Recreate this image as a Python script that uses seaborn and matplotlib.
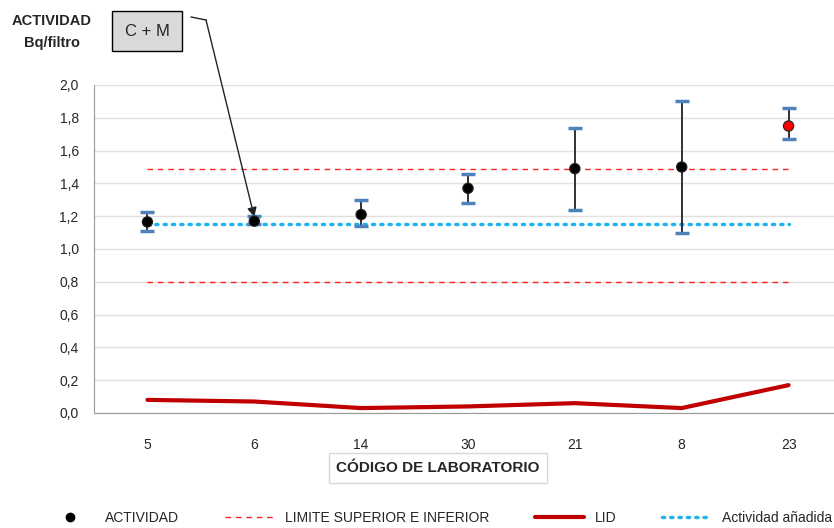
import matplotlib.pyplot as plt
import seaborn as sns
import pandas as pd
from matplotlib.lines import Line2D

# datos
labs = ['5', '6', '14', '30', '21', '8', '23']
actividad = [1.165, 1.17, 1.21, 1.37, 1.49, 1.50, 1.75]
err_sup = [1.225, 1.20, 1.30, 1.46, 1.74, 1.90, 1.86]
err_inf = [1.11, 1.15, 1.14, 1.28, 1.24, 1.10, 1.67]
lid = [0.08, 0.07, 0.03, 0.04, 0.06, 0.03, 0.17]
lim_sup = 1.49
lim_inf = 0.80
act_anadida = 1.15
yticks = [0.0, 0.2, 0.4, 0.6, 0.8, 1.0, 1.2, 1.4, 1.6, 1.8, 2.0]

sns.set_style('white')
plt.rcParams['font.family'] = ['Liberation Sans Narrow', 'Liberation Sans', 'DejaVu Sans']

df = pd.DataFrame({'lab': labs, 'x': range(len(labs)), 'act': actividad,
                   'sup': err_sup, 'inf': err_inf, 'lid': lid})
colores = ['black'] * (len(labs) - 1) + ['#ff0000']

fig = plt.figure(figsize=(8.34, 5.28), dpi=100)
ax = fig.add_axes([94 / 834, 115 / 528, 748 / 834, 328 / 528])

ax.set_ylim(0, 2.0)
ax.set_yticks(yticks)
ax.set_yticklabels([f'{v:.1f}'.replace('.', ',') for v in yticks], fontsize=10)
ax.yaxis.grid(True, color='#e0e0e0', lw=1)
ax.set_axisbelow(True)
for s in ['top', 'right']:
    ax.spines[s].set_visible(False)
for s in ['left', 'bottom']:
    ax.spines[s].set_color('#9a9a9a')
ax.tick_params(axis='y', length=5, color='#9a9a9a', pad=6)

xs = df['x']
ax.plot([xs.iloc[0], xs.iloc[-1]], [act_anadida] * 2, color='#1fb4f0', lw=2.5,
        ls=(0, (0.6, 1.8)), dash_capstyle='round', zorder=2)
ax.plot([xs.iloc[0], xs.iloc[-1]], [lim_sup] * 2, color='#ff2020', lw=1, ls=(0, (4, 3.5)), zorder=2)
ax.plot([xs.iloc[0], xs.iloc[-1]], [lim_inf] * 2, color='#ff2020', lw=1, ls=(0, (4, 3.5)), zorder=2)

sns.lineplot(data=df, x='x', y='lid', ax=ax, color='#c00000', lw=3, zorder=3)

yerr = [df['act'] - df['inf'], df['sup'] - df['act']]
cont = ax.errorbar(df['x'], df['act'], yerr=yerr, fmt='none', ecolor='#222222',
                   elinewidth=1.3, capsize=5, capthick=2.5, zorder=4)
for c in cont[1]:
    c.set_markeredgecolor('#4f81bd')
sns.scatterplot(data=df, x='x', y='act', ax=ax, c=colores, s=55, edgecolor='#222222',
                linewidth=0.8, zorder=5)
ax.set_xlabel('')
ax.set_ylabel('')
ax.set_xlim(-0.5, 6.5)
ax.set_xticks([i - 0.5 for i in range(len(labs))])
ax.set_xticklabels([])
ax.set_xticks(range(len(labs)), minor=True)
ax.set_xticklabels(labs, minor=True, fontsize=10)
ax.tick_params(axis='x', which='major', length=5, color='#9a9a9a')
ax.tick_params(axis='x', which='minor', length=0, pad=18)

# titulos
fig.text(52 / 834, 1 - 21 / 528, 'ACTIVIDAD', ha='center', va='center', fontsize=10.5, fontweight='bold')
fig.text(52 / 834, 1 - 43 / 528, 'Bq/filtro', ha='center', va='center', fontsize=10.5, fontweight='bold')
fig.text(147 / 834, 1 - 31 / 528, 'C + M', ha='center', va='center', fontsize=12,
         bbox=dict(boxstyle='square,pad=0.75', fc='#d9d9d9', ec='black', lw=1))
fig.add_artist(Line2D([191 / 834, 206 / 834], [1 - 17 / 528, 1 - 20 / 528], color='#222222', lw=1))
ax.annotate('', xy=(1, 1.195), xycoords='data', xytext=(206 / 834, 1 - 20 / 528),
            textcoords='figure fraction',
            arrowprops=dict(arrowstyle='-|>', color='#222222', lw=1, mutation_scale=14, shrinkA=0, shrinkB=0))

fig.text(438 / 834, 1 - 468 / 528, 'CÓDIGO DE LABORATORIO', ha='center', va='center', fontsize=11,
         fontweight='bold', bbox=dict(boxstyle='square,pad=0.5', fc='white', ec='#d8d8d8', lw=1))

handles = [
    Line2D([], [], marker='o', color='black', ls='none', markersize=6),
    Line2D([], [], color='#ff2020', lw=1, ls=(0, (4, 3.5))),
    Line2D([], [], color='#c00000', lw=3),
    Line2D([], [], color='#1fb4f0', lw=2.5, ls=(0, (0.6, 1.8)), dash_capstyle='round'),
]
names = ['ACTIVIDAD', 'LIMITE SUPERIOR E INFERIOR', 'LID', 'Actividad añadida']
fig.legend(handles, names, loc='center left', bbox_to_anchor=(40 / 834, 1 - 518 / 528), ncol=4,
           frameon=False, fontsize=10, handlelength=3.5, columnspacing=3.3, handletextpad=0.8,
           borderaxespad=0)

fig.savefig('out.png', dpi=100)
